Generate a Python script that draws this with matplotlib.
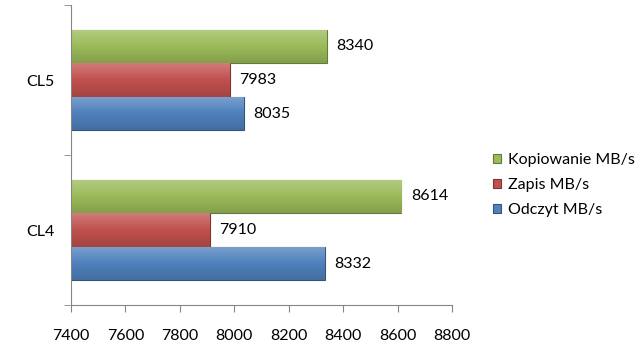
import numpy as np
import matplotlib
matplotlib.use('Agg')
import matplotlib.pyplot as plt
from matplotlib.colors import LinearSegmentedColormap, to_rgb

plt.rcParams['font.family'] = ['Lato', 'DejaVu Sans']

# dane
categories = ['CL4', 'CL5']
series_names = ['Odczyt MB/s', 'Zapis MB/s', 'Kopiowanie MB/s']
odczyt = [8332, 8035]
zapis = [7910, 7983]
kopiowanie = [8614, 8340]
colors = ['#4F81BD', '#C0504D', '#9BBB59']
x_ticks = [7400, 7600, 7800, 8000, 8200, 8400, 8600, 8800]


def shade(c, f):
    r, g, b = to_rgb(c)
    if f >= 0:
        return (r + (1 - r) * f, g + (1 - g) * f, b + (1 - b) * f)
    return (r * (1 + f), g * (1 + f), b * (1 + f))


fig = plt.figure(figsize=(6.42, 3.52), dpi=100)
ax = fig.add_axes([0.1106, 0.1335, 0.5935, 0.852])

y = np.arange(len(categories))
h = 0.224
base = x_ticks[0]
handles = []
for i, (vals, name, col) in enumerate(zip([odczyt, zapis, kopiowanie], series_names, colors)):
    pos = y + (i - 1) * h
    bars = ax.barh(pos, np.array(vals) - base, left=base, height=h, color=col,
                   edgecolor=shade(col, -0.35), linewidth=0.8, label=name, zorder=2)
    handles.append(bars)
    # gradient (efekt 3D)
    cmap = LinearSegmentedColormap.from_list('g', [shade(col, -0.15), col, shade(col, 0.25)])
    for b in bars:
        grad = np.linspace(0, 1, 50).reshape(-1, 1)
        im = ax.imshow(grad, cmap=cmap, aspect='auto', origin='lower',
                       extent=[b.get_x(), b.get_x() + b.get_width(),
                               b.get_y(), b.get_y() + b.get_height()], zorder=2.5)
        im.set_clip_path(b)
    for p, v in zip(pos, vals):
        ax.text(v + 35, p, str(v), va='center', ha='left', fontsize=11.5)

ax.set_xlim(7400, 8800)
ax.set_ylim(-0.5, 1.5)
ax.set_xticks(x_ticks)
ax.set_xticklabels([str(t) for t in x_ticks], fontsize=11.5)
ax.set_yticks(y)
ax.set_yticklabels(categories, fontsize=11.5)
ax.set_yticks([-0.5, 0.5, 1.5], minor=True)
ax.tick_params(axis='y', which='major', length=0, pad=12)
ax.tick_params(axis='y', which='minor', length=5, color='#868686')
ax.tick_params(axis='x', length=5, color='#868686', pad=12)

for s in ['top', 'right']:
    ax.spines[s].set_visible(False)
for s in ['left', 'bottom']:
    ax.spines[s].set_color('#868686')

leg = fig.legend(handles[::-1], [n for n in series_names[::-1]],
                 loc='center left', bbox_to_anchor=(0.745, 0.474), frameon=False,
                 fontsize=11.5, handlelength=0.55, handleheight=0.55,
                 handletextpad=0.4, labelspacing=0.7)

fig.savefig('out.png', dpi=100)
